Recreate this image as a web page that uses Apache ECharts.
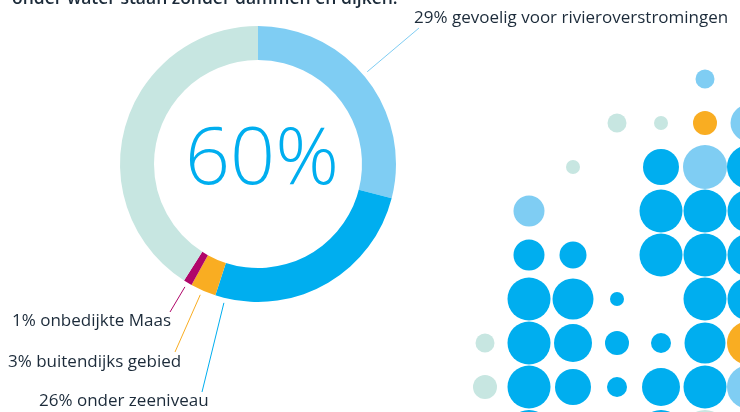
<!DOCTYPE html>
<html><head><meta charset="utf-8">
<script src="https://cdn.jsdelivr.net/npm/echarts@6/dist/echarts.min.js"></script>
<style>html,body{margin:0;padding:0;background:#fff}#c{width:740px;height:412px}</style>
</head><body><div id="c"></div>
<script>
// ---- data ----
const headingText = 'onder water staan zonder dammen en dijken.';
const centerText = '60%';
const ringNames = ['29% gevoelig voor rivieroverstromingen', '26% onder zeeniveau', '3% buitendijks gebied', '1% onbedijkte Maas', 'rest'];
const ringValues = [29, 26, 3, 1, 41];
const ringLabelled = [true, true, true, true, false];
const ringKinds = ['L', 'B', 'O', 'M', 'T'];

// bubble grid: symbol diameter per row (columns 0..6), 0 = empty
const bubbleSizes = [
  [0, 0, 0, 0, 0, 19, 0],
  [0, 0, 0, 19, 14, 24, 37],
  [0, 0, 14, 0, 36, 44, 44],
  [0, 31, 0, 0, 43, 43, 43],
  [0, 31, 27, 0, 43, 43, 43],
  [0, 43, 41, 14, 0, 43, 43],
  [19, 43, 38, 24, 20, 41, 44],
  [24, 43, 36, 20, 38, 43, 44],
  [0, 42, 0, 0, 42, 42, 0]
];
const bubbleKinds = [
  '.....L.',
  '...TTOL',
  '..T.BLB',
  '.L..BBB',
  '.BB.BBB',
  '.BBB.BB',
  'TBBBBBO',
  'TBBBBBL',
  '.B..BT.'
];

// ---- styles / layout ----
const COLORS = { B: '#00aeef', L: '#7fcdf3', T: '#c7e6e1', O: '#f9ad22', M: '#b0066a' };
const TEXT = '#1c2b3a';
const pieCenter = [258, 164];
const pieRadius = [104, 138];
const lineGap = 5;
// label text position and the point where its leader line ends
const labelPos = [
  { x: 414, y: 18, end: [419, 28] },
  { x: 39, y: 401, end: [202, 392] },
  { x: 8, y: 362, end: [175, 352] },
  { x: 12, y: 321, end: [170, 312] }
];

const bubbles = [];
bubbleSizes.forEach((row, r) => row.forEach((s, c) => {
  if (s > 0) bubbles.push({ value: [c, r], symbolSize: s, itemStyle: { color: COLORS[bubbleKinds[r][c]], opacity: 1 } });
}));

const chart = echarts.init(document.getElementById('c'), null, { renderer: 'canvas' });
chart.setOption({
  animation: false,
  backgroundColor: '#fff',
  title: {
    text: headingText, left: 12, top: -10, padding: 0,
    textStyle: { fontFamily: 'Open Sans', fontSize: 17.5, fontWeight: 600, color: TEXT }
  },
  graphic: [{
    type: 'text', x: pieCenter[0] + 4, y: 161, silent: true,
    style: { text: centerText, fill: COLORS.B, fontFamily: 'Open Sans', fontSize: 79, fontWeight: 300, align: 'center', verticalAlign: 'middle' }
  }],
  grid: { left: 485, top: 79, width: 264, height: 352, outerBoundsMode: 'none' },
  xAxis: { type: 'value', min: 0, max: 6, show: false },
  yAxis: { type: 'value', min: 0, max: 8, inverse: true, show: false },
  series: [
    {
      type: 'pie', center: pieCenter, radius: pieRadius, startAngle: 90, clockwise: true,
      avoidLabelOverlap: false, silent: true, emphasis: { scale: false },
      label: { show: true, formatter: '{b}', color: TEXT, fontFamily: 'Open Sans', fontSize: 17, lineHeight: 22 },
      labelLine: { show: true, length: 10, length2: 0, lineStyle: { width: 1 } },
      labelLayout: function (p) {
        const pos = labelPos[p.dataIndex];
        if (!pos) return {};
        const dx = pos.end[0] - pieCenter[0], dy = pos.end[1] - pieCenter[1];
        const k = (pieRadius[1] + lineGap) / Math.sqrt(dx * dx + dy * dy);
        const start = [pieCenter[0] + dx * k, pieCenter[1] + dy * k];
        return {
          x: pos.x, y: pos.y, align: 'left', verticalAlign: 'middle',
          labelLinePoints: [start, pos.end, pos.end]
        };
      },
      data: ringValues.map((v, i) => ({
        name: ringNames[i], value: v,
        itemStyle: { color: COLORS[ringKinds[i]] },
        label: { show: ringLabelled[i] },
        labelLine: { show: ringLabelled[i] }
      }))
    },
    {
      type: 'scatter', symbol: 'circle', clip: false, silent: true,
      itemStyle: { opacity: 1 },
      data: bubbles
    }
  ]
});
</script></body></html>
